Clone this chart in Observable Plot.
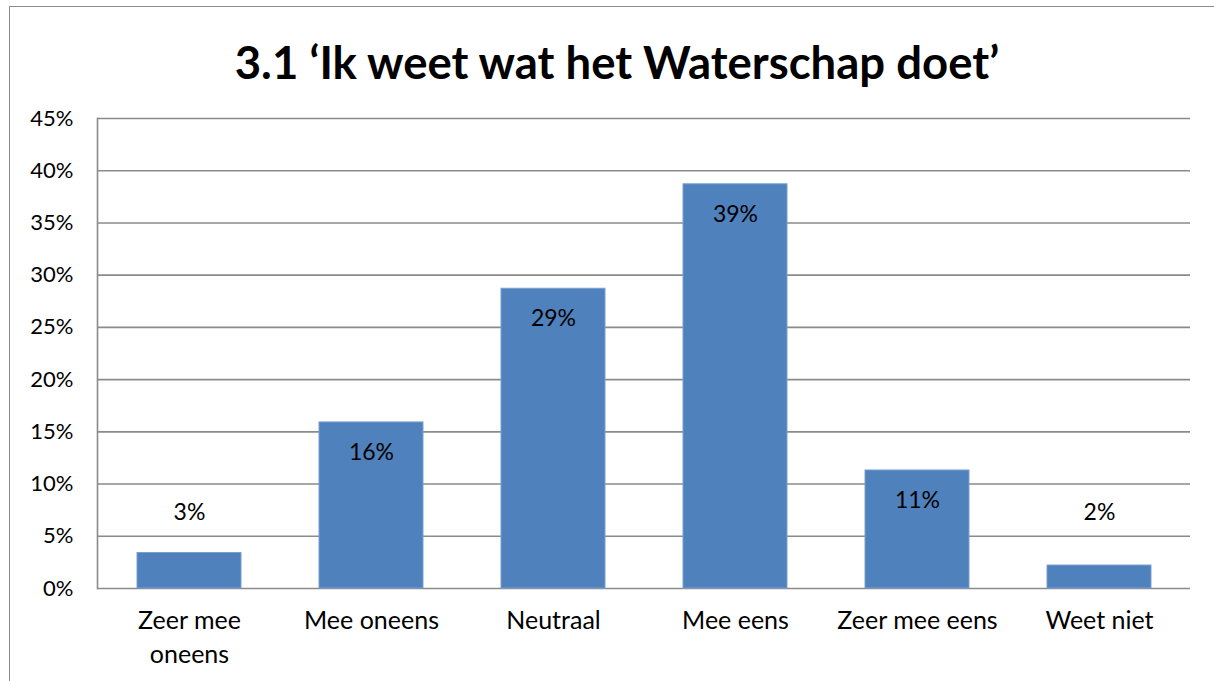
<!DOCTYPE html>
<html>
<head>
<meta charset="utf-8">
<script src="https://cdn.jsdelivr.net/npm/d3@7"></script>
<script src="https://cdn.jsdelivr.net/npm/@observablehq/plot@0.6"></script>
<style>
  html, body { margin: 0; padding: 0; background: #fff; }
  body { width: 1214px; height: 681px; position: relative; overflow: hidden; font-family: Lato, "Open Sans", sans-serif; }
  #frame { position: absolute; left: 9px; top: 6px; width: 1205px; height: 675px; border-left: 1.5px solid #8a8a8a; border-top: 1.5px solid #8a8a8a; z-index: 2; pointer-events: none; }
  #title { position: absolute; left: 9px; top: 34px; width: 1216px; text-align: center; font-family: Lato, sans-serif; font-weight: bold; font-size: 45.5px; line-height: 56px; color: #000; }
  #chart { position: absolute; left: 0; top: 100px; }
</style>
</head>
<body>
<div id="frame"></div>
<div id="title">3.1 ‘Ik weet wat het Waterschap doet’</div>
<div id="chart"></div>
<script>
const categories = ["Zeer mee oneens", "Mee oneens", "Neutraal", "Mee eens", "Zeer mee eens", "Weet niet"];
const tickLabels = ["Zeer mee\noneens", "Mee oneens", "Neutraal", "Mee eens", "Zeer mee eens", "Weet niet"];
const values = [3.4, 15.9, 28.7, 38.7, 11.3, 2.2];
const valueLabels = ["3%", "16%", "29%", "39%", "11%", "2%"];
const yTicks = [0, 5, 10, 15, 20, 25, 30, 35, 40, 45];

const data = categories.map((c, i) => ({category: c, value: values[i], label: valueLabels[i]}));
const inside = data.filter(d => d.value >= 5);
const outside = data.filter(d => d.value < 5);

const chart = Plot.plot({
  width: 1214,
  height: 581,
  marginTop: 18,
  marginBottom: 93,
  marginLeft: 97,
  marginRight: 24,
  style: {fontFamily: "Lato, sans-serif", fontSize: "22px", color: "#000", background: "transparent"},
  x: {domain: categories, paddingInner: 0.43, paddingOuter: 0.215, label: null},
  y: {domain: [0, 45], label: null},
  marks: [
    Plot.ruleY(yTicks, {stroke: "#8a8a8a", strokeWidth: 1.6}),
    Plot.frame({anchor: "left", stroke: "#8a8a8a", strokeWidth: 1.6}),
    Plot.axisY({ticks: yTicks, tickSize: 0, tickPadding: 24, tickFormat: d => d + "%", fontSize: 22, label: null}),
    Plot.axisX({tickSize: 0, tickPadding: 16, tickFormat: d => tickLabels[categories.indexOf(d)], fontSize: 25, lineHeight: 1.36, label: null}),
    Plot.barY(data, {x: "category", y: "value", fill: "#4F81BD", stroke: "#7a9fd0", strokeWidth: 1}),
    Plot.text(inside, {x: "category", y: "value", text: "label", dy: 30, fontSize: 23, fill: "#000"}),
    Plot.text(outside, {x: "category", y: () => 0, text: "label", dy: -76, fontSize: 23, fill: "#000"})
  ]
});
document.getElementById("chart").appendChild(chart);
</script>
</body>
</html>
